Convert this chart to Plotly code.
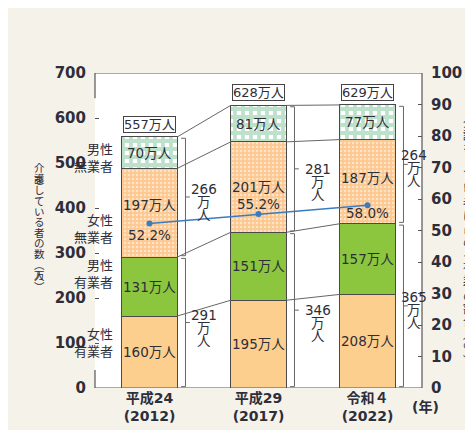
import plotly.graph_objects as go

# ---- data ----
year_labels = ["平成24<br>(2012)", "平成29<br>(2017)", "令和４<br>(2022)"]
female_emp = [160, 195, 208]      # 女性有業者
male_emp = [131, 151, 157]        # 男性有業者
female_unemp = [197, 201, 187]    # 女性無業者
male_unemp = [70, 81, 77]         # 男性無業者
totals = [557, 628, 629]
emp_totals = [291, 346, 365]
unemp_totals = [266, 281, 264]
emp_rate = [52.2, 55.2, 58.0]     # 有業者の割合（%）

series_names = ["女性有業者", "男性有業者", "女性無業者", "男性無業者"]
left_title = "介護をしている者の数︵万人︶"
right_title = "介護をしている者に占める有業者の割合︵％︶"

# ---- style ----
BG = "#f5f2ea"
TXT = "#2e2e3a"
LINE = "#555555"
FONT = "DejaVu Sans, Noto Sans CJK JP, sans-serif"
LFONT = "Noto Sans CJK JP, sans-serif"
BW = 0.51

x = list(range(len(year_labels)))
fig = go.Figure()

seg_data = [female_emp, male_emp, female_unemp, male_unemp]
seg_style = [
    dict(color="#fdcf8f"),
    dict(color="#8cc63f"),
    dict(color="#fcd0a0", pattern=dict(shape=".", fgcolor="#ffffff", bgcolor="#fcc890", size=4, solidity=0.3)),
    dict(color="#ffffff", pattern=dict(shape="+", fgcolor="#7cc498", bgcolor="#ffffff", size=8, solidity=0.72)),
]
for name, vals, st in zip(series_names, seg_data, seg_style):
    fig.add_trace(go.Bar(
        x=x, y=vals, name=name, width=BW,
        marker=dict(line=dict(color="#4a4a4a", width=1), **st),
        hoverinfo="skip",
    ))

fig.add_trace(go.Scatter(
    x=x, y=emp_rate, yaxis="y2", mode="lines+markers",
    line=dict(color="#3a7cc0", width=1.4),
    marker=dict(color="#3a7cc0", size=6),
    hoverinfo="skip",
))

# cumulative boundaries
cum = []
for i in x:
    c, acc = [], 0
    for s in seg_data:
        acc += s[i]
        c.append(acc)
    cum.append(c)

shapes = []
ann = []

# series connector lines between bars
for i in x[:-1]:
    for k in range(4):
        shapes.append(dict(type="line", xref="x", yref="y",
                           x0=i + BW / 2, y0=cum[i][k], x1=i + 1 - BW / 2, y1=cum[i + 1][k],
                           line=dict(color="#666", width=1)))

# segment labels
fu_shift = [8, 0, 4]
pct_shift = [-11, 10, -8]
for i in x:
    lo = 0
    for k, s in enumerate(seg_data):
        mid = lo + s[i] / 2
        ys = fu_shift[i] if k == 2 else 0
        ann.append(dict(x=i, y=mid, xref="x", yref="y", text=f"{s[i]}万人", showarrow=False,
                        yshift=ys, font=dict(size=13.5, color=TXT, family=FONT)))
        lo += s[i]
    ann.append(dict(x=i, y=emp_rate[i], xref="x", yref="y2", text=f"{emp_rate[i]:.1f}%", showarrow=False,
                    yshift=pct_shift[i], font=dict(size=13.5, color=TXT, family=FONT)))
    # totals box
    ann.append(dict(x=i, y=cum[i][3], xref="x", yref="y", text=f"{totals[i]}万人", showarrow=False,
                    yanchor="bottom", yshift=4, bgcolor="white", bordercolor="#444", borderwidth=1,
                    borderpad=0, font=dict(size=13, color=TXT, family=FONT)))

# brackets
bdx = 0.33
lab_dx = [0.5, 0.55, 0.43]
num_shift = [8, 0, 9]
for i in x:
    spans = [(0, emp_totals[i], emp_totals[i]), (emp_totals[i], cum[i][3], unemp_totals[i])]
    for (a, b, v) in spans:
        a2, b2 = a + 3, b - 3
        bx = i + bdx
        m = (a + b) / 2
        shapes.append(dict(type="path", xref="x", yref="y",
                           path=f"M {i+0.29},{a2} L {bx},{a2} L {bx},{b2} L {i+0.29},{b2}",
                           line=dict(color="#666", width=1)))
        shapes.append(dict(type="line", xref="x", yref="y", x0=bx, x1=i + 0.37, y0=m, y1=m,
                           line=dict(color="#666", width=1)))
        for j, t in enumerate([str(v), "万", "人"]):
            ann.append(dict(x=i + lab_dx[i], y=m, xref="x", yref="y", text=t, showarrow=False,
                            yshift=num_shift[i] - 13 * j,
                            font=dict(size=13.5, color=TXT, family=FONT)))

# frame
fr = dict(color=LINE, width=1.2)
shapes += [
    dict(type="line", xref="paper", yref="y", x0=0, x1=1, y0=700, y1=700, line=fr),
    dict(type="line", xref="paper", yref="y", x0=0, x1=1, y0=0, y1=0, line=fr),
    dict(type="line", xref="paper", yref="y", x0=1, x1=1, y0=0, y1=700, line=fr),
    dict(type="line", xref="paper", yref="y", x0=0, x1=0, y0=644, y1=700, line=fr),
    dict(type="line", xref="paper", yref="y", x0=0, x1=0, y0=0, y1=40, line=fr),
]

# left category labels
cat_pos = [("男性<br>無業者", 0.797), ("女性<br>無業者", 0.508), ("男性<br>有業者", 0.365), ("女性<br>有業者", 0.083)]
for t, py in cat_pos:
    ann.append(dict(x=0.062, y=py, xref="paper", yref="paper", text=t, showarrow=False,
                    xanchor="right", align="right", font=dict(size=13, color=TXT, family=LFONT)))

# vertical axis titles (upright characters stacked)
for k, ch in enumerate(left_title):
    ypx = 158 + k * 10.6
    ann.append(dict(x=-0.193, y=(388 - ypx) / 315, xref="paper", yref="paper", text=ch, showarrow=False,
                    font=dict(size=10.5, color=TXT, family=LFONT)))
for k, ch in enumerate(right_title):
    ypx = 112 + k * 12.9
    ann.append(dict(x=1.12, y=(388 - ypx) / 315, xref="paper", yref="paper", text=ch, showarrow=False,
                    xanchor="left", font=dict(size=11, color=TXT, family=LFONT)))

ann.append(dict(x=1.057, y=-0.093, xref="paper", yref="paper", text="(年)", showarrow=False,
                font=dict(size=14, color=TXT, family=FONT, weight="bold")))

fig.update_layout(
    width=473, height=430,
    margin=dict(l=87, r=59, t=65, b=50),
    paper_bgcolor=BG, plot_bgcolor="white",
    barmode="stack", bargap=0.49, showlegend=False,
    xaxis=dict(range=[-0.5, 2.5], tickvals=x, ticktext=year_labels, showline=False, showgrid=False,
               zeroline=False, ticks="", tickfont=dict(size=14, color=TXT, family=FONT, weight="bold")),
    yaxis=dict(range=[0, 700], dtick=100, showgrid=False, zeroline=False, showline=False,
               ticks="inside", ticklen=4, tickcolor=LINE, ticklabelstandoff=8,
               tickfont=dict(size=15, color=TXT, family=FONT, weight="bold")),
    yaxis2=dict(range=[0, 100], dtick=10, overlaying="y", side="right", showgrid=False, zeroline=False,
                showline=False, ticks="inside", ticklen=4, tickcolor=LINE, ticklabelstandoff=8,
                tickfont=dict(size=15, color=TXT, family=FONT, weight="bold")),
    shapes=shapes, annotations=ann,
)

fig.write_html("out.html")
